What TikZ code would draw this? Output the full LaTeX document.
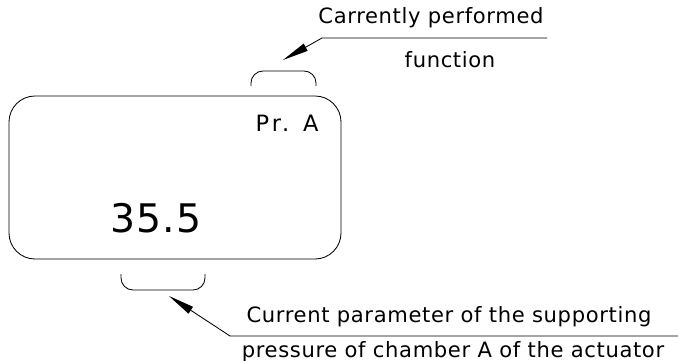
\documentclass[tikz,border=0pt]{standalone}
\usepackage{fontspec}
\setmainfont{DejaVu Sans}
\newfontfamily\widefont[LetterSpace=3]{DejaVu Sans}
\newfontfamily\widerfont[LetterSpace=14]{DejaVu Sans}
\usetikzlibrary{arrows.meta}
\begin{document}
\begin{tikzpicture}[x=0.25mm,y=-0.25mm,line width=0.6pt,
  lbl/.style={inner sep=0pt,font=\widefont\fontsize{15}{17}\selectfont},
  pointer/.style={-{Triangle[length=6.5mm,width=2mm]}}]
  \useasboundingbox (0,0) rectangle (678,361);
  % display
  \node[draw,rounded corners=6.5mm,minimum width=83mm,minimum height=40.75mm,inner sep=0pt] (display) at (175,177.5) {};
  \node[inner sep=0pt,font=\widerfont\fontsize{16}{18}\selectfont] (func) at (287,123.5) {Pr. A};
  \node[inner sep=0pt,font=\widefont\fontsize{28}{30}\selectfont] (value) at (156,218) {35.5};
  % brackets
  \draw[rounded corners=3mm] (251,86) -- (251,71) -- (316,71) -- (316,86);
  \draw[rounded corners=3mm] (121,274) -- (121,290) -- (205,290) -- (205,274);
  % upper leader
  \coordinate (functip) at (283,60);
  \coordinate (funcknee) at (322,38);
  \coordinate (funcend) at (547,38);
  \node[lbl] (functxt1) at (431,18) {Carrently performed};
  \node[lbl] (functxt2) at (450,60) {function};
  \draw[pointer] (funcend) -- (funcknee) -- (functip);
  % lower leader
  \coordinate (valtip) at (169,296);
  \coordinate (valknee) at (230,336);
  \coordinate (valend) at (678,336);
  \node[lbl] (valtxt1) at (449,317) {Current parameter of the supporting};
  \node[lbl] (valtxt2) at (453,352) {pressure of chamber A of the actuator};
  \draw[pointer] (valend) -- (valknee) -- (valtip);
\end{tikzpicture}
\end{document}
